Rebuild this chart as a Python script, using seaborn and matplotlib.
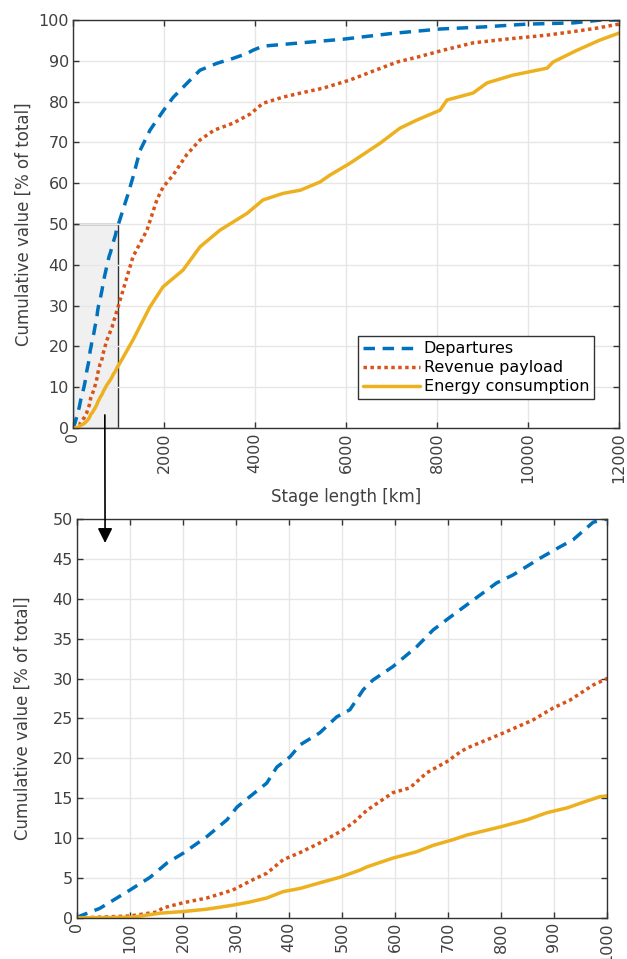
import numpy as np
import pandas as pd
import seaborn as sns
import matplotlib
matplotlib.use('Agg')
from matplotlib import pyplot as plt
from matplotlib.patches import Rectangle, ConnectionPatch

# stage length [km] and cumulative share [% of total]
dep_km = [0, 6, 43, 100, 138, 170, 200, 245, 283, 302, 326, 358, 377, 402, 421, 458, 490, 515, 540, 558,
          596, 641, 672, 704, 755, 792, 823, 874, 911, 936, 974, 1000, 1200, 1319, 1473, 1692, 2000, 2198,
          2505, 2791, 3165, 3517, 3824, 3956, 4176, 5000, 5935, 7000, 8067, 9000, 9979, 11000, 11600, 12000]
dep_pct = [0, 0.25, 1.2, 3.5, 5.1, 6.9, 8.1, 10.2, 12.3, 13.9, 15.2, 16.9, 18.9, 20.2, 21.7, 23.2, 25.2, 26.1,
           28.6, 29.8, 31.5, 34.0, 36.1, 37.7, 40.2, 42.0, 43.0, 45.1, 46.5, 47.4, 49.6, 50.0, 57.0, 61.5, 68.0,
           73.0, 78.0, 81.0, 84.5, 87.7, 89.4, 90.6, 91.8, 92.6, 93.6, 94.4, 95.3, 96.7, 97.8, 98.3, 99.0, 99.3,
           100.0, 100.0]

rev_km = [0, 100, 151, 162, 200, 245, 294, 332, 358, 389, 421, 458, 496, 521, 547, 596, 628, 660, 698, 723,
          736, 798, 860, 898, 930, 974, 1000, 1319, 1626, 1846, 1978, 2200, 2500, 2791, 3100, 3517, 3900,
          4176, 4615, 5000, 5495, 6088, 6600, 7121, 7600, 8133, 8792, 9500, 10419, 11078, 11500, 12000]
rev_pct = [0, 0.25, 0.75, 1.25, 1.9, 2.5, 3.5, 4.8, 5.6, 7.3, 8.2, 9.4, 10.8, 11.9, 13.5, 15.7, 16.3, 18.2,
           19.6, 20.8, 21.3, 23.0, 24.8, 26.3, 27.3, 29.2, 30.0, 42.0, 48.5, 56.0, 59.0, 62.0, 67.0, 70.6, 73.0,
           74.7, 77.0, 79.6, 81.1, 82.1, 83.3, 85.3, 87.5, 89.7, 91.0, 92.6, 94.4, 95.3, 96.3, 97.3, 98.0, 99.0]

en_km = [0, 106, 157, 200, 245, 294, 326, 358, 389, 421, 458, 496, 534, 547, 596, 641, 672, 709, 736, 798,
         849, 887, 925, 955, 987, 1000, 1319, 1692, 1978, 2418, 2791, 3231, 3824, 4176, 4615, 5000, 5429,
         5649, 6088, 6748, 7187, 7561, 8067, 8220, 8792, 9100, 9671, 10419, 10550, 11078, 11583, 12000]
en_pct = [0, 0.1, 0.6, 0.8, 1.1, 1.6, 2.0, 2.5, 3.3, 3.7, 4.4, 5.1, 6.0, 6.4, 7.5, 8.3, 9.1, 9.8, 10.4, 11.4,
          12.3, 13.2, 13.8, 14.5, 15.2, 15.3, 21.6, 29.7, 34.6, 38.7, 44.4, 48.5, 52.6, 55.9, 57.5, 58.3, 60.3,
          62.0, 64.9, 69.8, 73.5, 75.5, 77.9, 80.4, 82.1, 84.6, 86.5, 88.2, 89.7, 92.6, 95.1, 96.8]

series = [
    ('Departures', dep_km, dep_pct, '#0072BD', (0, (3.3, 2.2))),
    ('Revenue payload', rev_km, rev_pct, '#D95319', (0, (1, 1))),
    ('Energy consumption', en_km, en_pct, '#EDB120', '-'),
]

sns.set_theme(style='whitegrid')
plt.rcParams['font.family'] = ['DejaVu Sans']
txt = '#404040'

fig = plt.figure(figsize=(6.27, 9.59), dpi=100)
ax1 = fig.add_axes([0.1164, 0.5537, 0.8708, 0.4254])
ax2 = fig.add_axes([0.1228, 0.0428, 0.8453, 0.4160])


def draw(ax, legend, pad):
    for name, xs, ys, col, ls in series:
        df = pd.DataFrame({'km': xs, 'pct': ys})
        sns.lineplot(data=df, x='km', y='pct', ax=ax, color=col, linewidth=2.5,
                     label=name if legend else None, sort=False)
        ax.lines[-1].set_linestyle(ls)
    ax.set_facecolor('white')
    ax.grid(True, color='#e6e6e6', linewidth=1)
    for s in ax.spines.values():
        s.set_color('#333333')
        s.set_linewidth(1)
        s.set_visible(True)
    ax.tick_params(direction='in', length=4, width=1, color='#333333', labelcolor=txt,
                   labelsize=11.5, top=True, right=True, bottom=True, left=True, pad=3)
    ax.tick_params(axis='x', labelrotation=90)
    ax.set_ylabel('Cumulative value [% of total]', fontsize=12, color=txt, labelpad=pad)


draw(ax1, True, 4)
ax1.set_xlim(0, 12000)
ax1.set_ylim(0, 100)
ax1.set_xticks(np.arange(0, 12001, 2000))
ax1.set_yticks(np.arange(0, 101, 10))
ax1.set_xlabel('Stage length [km]', fontsize=12, color=txt)
ax1.add_patch(Rectangle((0, 0), 1000, 50, facecolor='#f0f0f0', edgecolor='#333333',
                        linewidth=1, zorder=0.5))
leg = ax1.legend(loc='lower right', bbox_to_anchor=(0.954, 0.071), fontsize=11.5, frameon=True,
                 fancybox=False, framealpha=1, edgecolor='#333333', handlelength=3.6,
                 borderpad=0.3, labelspacing=0.25, handletextpad=0.2, borderaxespad=0)
leg.get_frame().set_linewidth(1)
for t in leg.get_texts():
    t.set_color('black')

draw(ax2, False, 15)
ax2.set_xlim(0, 1000)
ax2.set_ylim(0, 50)
ax2.set_xticks(np.arange(0, 1001, 100))
ax2.set_yticks(np.arange(0, 51, 5))
ax2.set_xlabel('')

con = ConnectionPatch(xyA=(700, 3.2), coordsA=ax1.transData, xyB=(53, 47), coordsB=ax2.transData,
                      arrowstyle='-|>', mutation_scale=22, color='black', linewidth=1.2)
fig.add_artist(con)

fig.savefig('out.png', dpi=100)
